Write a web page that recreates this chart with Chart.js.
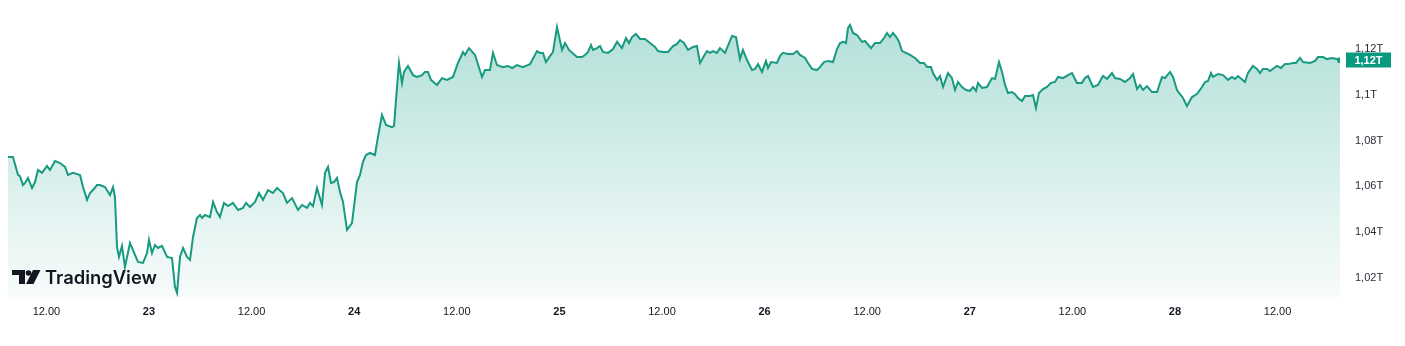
<!DOCTYPE html>
<html>
<head>
<meta charset="utf-8">
<script src="https://cdn.jsdelivr.net/npm/chart.js@4/dist/chart.umd.min.js"></script>
<style>
  html, body { margin: 0; padding: 0; background: #ffffff; }
  #wrap { width: 1405px; height: 346px; position: relative; }
</style>
</head>
<body>
<div id="wrap"><canvas id="c" width="1405" height="346"></canvas></div>
<script>
// Hours since day 22, 00:00
const hours = [
7.51,8.09,8.68,8.91,9.26,9.50,9.85,10.32,10.67,11.02,11.49,12.07,12.42,13.01,13.59,14.18,14.53,15.11,15.93,16.28,
16.75,17.10,17.45,17.92,18.27,18.85,19.44,19.79,20.02,20.26,20.49,20.84,21.19,21.78,22.13,22.71,23.30,23.77,24.00,24.35,
24.70,25.05,25.52,26.11,26.69,27.04,27.28,27.63,27.98,28.45,28.80,29.15,29.61,29.97,30.20,30.55,31.13,31.49,31.95,32.30,
32.77,33.24,33.82,34.41,34.99,35.35,35.81,36.40,36.87,37.33,37.92,38.50,38.97,39.67,40.14,40.73,41.43,41.90,42.48,42.83,
43.18,43.65,44.23,44.59,44.94,45.29,45.64,45.99,46.34,46.69,47.16,47.74,48.33,48.68,49.03,49.38,49.85,50.43,50.78,51.25,
51.72,52.42,52.66,53.01,53.24,53.59,53.83,54.29,54.88,55.35,55.93,56.28,56.63,56.98,57.69,58.27,58.85,59.56,60.14,60.73,
60.96,61.43,62.13,62.95,63.30,63.88,64.23,64.70,65.40,65.99,66.46,67.04,67.74,68.56,69.38,69.73,70.08,70.43,70.90,71.25,
71.72,72.31,72.66,73.12,74.06,74.64,74.99,75.35,75.70,75.93,76.40,76.75,77.10,77.69,78.27,78.74,79.32,79.79,80.14,80.49,
80.96,81.43,82.01,82.60,83.18,83.53,84.12,84.70,85.29,85.76,86.11,86.57,87.04,87.63,88.09,88.45,88.91,89.26,89.61,89.97,
90.43,90.78,91.37,92.19,92.66,93.12,93.47,93.94,94.53,94.88,95.23,95.70,96.16,96.40,96.75,97.45,97.80,98.15,98.74,99.32,
99.79,100.14,100.73,101.08,101.55,102.13,102.48,102.95,103.42,104.00,104.47,104.82,105.17,105.52,105.76,105.99,106.34,106.81,107.39,107.74,
108.45,108.91,109.50,109.97,110.32,110.67,111.02,111.49,111.72,112.07,112.54,113.01,113.59,114.18,114.64,115.00,115.46,115.70,116.17,116.52,
116.87,117.45,117.92,118.27,118.62,119.09,119.56,120.02,120.38,120.73,120.96,121.43,122.01,122.60,122.95,123.42,123.77,124.12,124.47,124.94,
125.29,125.64,126.11,126.46,127.04,127.39,127.74,128.09,128.56,129.03,129.50,129.97,130.32,130.90,131.49,131.95,132.54,133.12,133.47,133.83,
134.41,134.99,135.58,136.05,136.63,136.98,137.57,138.15,138.74,139.09,139.56,139.91,140.26,140.73,141.31,141.90,142.48,142.83,143.42,143.77,
144.23,144.59,144.94,145.40,145.99,146.57,147.16,147.51,147.86,148.21,148.45,149.03,149.62,150.20,150.67,151.02,151.37,152.19,152.54,153.12,
153.59,153.94,154.29,154.76,155.11,155.58,155.93,156.40,156.87,157.22,157.80,158.15,158.62,158.97,159.79,160.38,160.73,161.31,161.78,162.36,
162.95,163.30
];
// Values in trillions
const values = [
1.0728,1.0728,1.0650,1.0645,1.0606,1.0615,1.0637,1.0593,1.0619,1.0672,1.0659,1.0689,1.0672,1.0711,1.0702,1.0685,1.0650,1.0659,1.0650,1.0597,
1.0541,1.0571,1.0584,1.0606,1.0606,1.0597,1.0562,1.0597,1.0554,1.0335,1.0292,1.0340,1.0248,1.0353,1.0322,1.0270,1.0266,1.0309,1.0366,1.0309,
1.0344,1.0331,1.0340,1.0292,1.0287,1.0161,1.0135,1.0292,1.0331,1.0292,1.0279,1.0379,1.0462,1.0475,1.0462,1.0475,1.0466,1.0532,1.0488,1.0466,
1.0528,1.0514,1.0528,1.0497,1.0506,1.0528,1.0510,1.0532,1.0571,1.0541,1.0584,1.0571,1.0593,1.0571,1.0528,1.0549,1.0497,1.0519,1.0506,1.0528,
1.0514,1.0593,1.0519,1.0659,1.0685,1.0615,1.0619,1.0637,1.0576,1.0532,1.0410,1.0440,1.0619,1.0650,1.0707,1.0737,1.0746,1.0737,1.0816,1.0912,
1.0868,1.0859,1.0864,1.1034,1.1139,1.1052,1.1100,1.1126,1.1086,1.1078,1.1086,1.1100,1.1100,1.1065,1.1043,1.1073,1.1065,1.1078,1.1139,1.1187,
1.1174,1.1204,1.1174,1.1078,1.1108,1.1108,1.1183,1.1130,1.1121,1.1126,1.1117,1.1130,1.1121,1.1134,1.1191,1.1183,1.1183,1.1143,1.1169,1.1187,
1.1296,1.1196,1.1226,1.1196,1.1165,1.1165,1.1174,1.1187,1.1217,1.1196,1.1204,1.1213,1.1187,1.1183,1.1200,1.1231,1.1204,1.1248,1.1226,1.1252,
1.1266,1.1244,1.1244,1.1226,1.1209,1.1191,1.1187,1.1187,1.1213,1.1222,1.1239,1.1226,1.1196,1.1209,1.1213,1.1139,1.1169,1.1191,1.1183,1.1191,
1.1183,1.1204,1.1183,1.1257,1.1252,1.1156,1.1196,1.1152,1.1108,1.1113,1.1134,1.1100,1.1148,1.1117,1.1143,1.1139,1.1169,1.1183,1.1178,1.1178,
1.1191,1.1174,1.1161,1.1139,1.1113,1.1108,1.1121,1.1143,1.1148,1.1143,1.1200,1.1226,1.1231,1.1226,1.1292,1.1305,1.1270,1.1261,1.1231,1.1235,
1.1204,1.1226,1.1226,1.1248,1.1270,1.1252,1.1270,1.1248,1.1231,1.1191,1.1183,1.1174,1.1161,1.1139,1.1139,1.1121,1.1121,1.1095,1.1065,1.1082,
1.1034,1.1095,1.1073,1.1021,1.1056,1.1034,1.1021,1.1017,1.1034,1.1017,1.1052,1.1030,1.1034,1.1073,1.1069,1.1143,1.1100,1.1043,1.1008,1.1012,
1.1003,1.0986,1.0973,1.0995,1.0995,1.0999,1.0942,1.1008,1.1025,1.1034,1.1052,1.1056,1.1078,1.1073,1.1086,1.1095,1.1052,1.1052,1.1073,1.1082,
1.1034,1.1043,1.1082,1.1069,1.1095,1.1073,1.1069,1.1056,1.1073,1.1091,1.1025,1.1043,1.1021,1.1038,1.1012,1.1012,1.1078,1.1073,1.1100,1.1078,
1.1021,1.1003,1.0986,1.0951,1.0990,1.1003,1.1034,1.1056,1.1060,1.1095,1.1078,1.1091,1.1086,1.1065,1.1078,1.1069,1.1082,1.1056,1.1095,1.1126,
1.1113,1.1095,1.1113,1.1113,1.1104,1.1117,1.1126,1.1117,1.1134,1.1134,1.1139,1.1139,1.1161,1.1143,1.1139,1.1148,1.1165,1.1165,1.1156,1.1161,
1.1156,1.1151
];
const xTickHours = [12,24,36,48,60,72,84,96,108,120,132,144,156];
const xTickLabels = ['12.00','23','12.00','24','12.00','25','12.00','26','12.00','27','12.00','28','12.00'];
const yTickValues = [1.02,1.04,1.06,1.08,1.10,1.12];
const yTickLabels = ['1,02T','1,04T','1,06T','1,08T','1,1T','1,12T'];

const LINE = '#179a80';
const BADGE = '#089981';

const points = hours.map((h, i) => ({ x: h, y: values[i] }));

const overlay = {
  id: 'overlay',
  afterDraw(chart) {
    const { ctx, scales } = chart;
    const y = scales.y;
    const lastV = values[values.length - 1];
    const py = y.getPixelForValue(lastV);
    // price badge
    const txt = lastV.toFixed(2).replace('.', ',') + 'T';
    ctx.save();
    ctx.fillStyle = BADGE;
    ctx.fillRect(1346, Math.round(py) - 7.5, 45, 15);
    ctx.fillStyle = '#ffffff';
    ctx.font = 'bold 11px "Liberation Sans", Arial, sans-serif';
    ctx.textAlign = 'center';
    ctx.textBaseline = 'middle';
    ctx.fillText(txt, 1368.5, Math.round(py) + 0.5);
    ctx.restore();

    // TradingView logo
    ctx.save();
    ctx.fillStyle = '#131722';
    ctx.fillRect(12, 270, 13, 5);
    ctx.fillRect(19, 270, 6, 14);
    ctx.beginPath();
    ctx.arc(28.5, 273, 2.8, 0, Math.PI * 2);
    ctx.fill();
    ctx.beginPath();
    ctx.moveTo(33, 270);
    ctx.lineTo(40.5, 270);
    ctx.lineTo(33.5, 284);
    ctx.lineTo(26, 284);
    ctx.closePath();
    ctx.fill();
    let fs = 18;
    ctx.font = '600 ' + fs + 'px Inter, "Noto Sans", sans-serif';
    const w = ctx.measureText('TradingView').width;
    fs = fs * 112 / w;
    ctx.font = '600 ' + fs.toFixed(2) + 'px Inter, "Noto Sans", sans-serif';
    ctx.textBaseline = 'alphabetic';
    ctx.textAlign = 'left';
    ctx.fillText('TradingView', 45, 283.5);
    ctx.restore();
  }
};

new Chart(document.getElementById('c'), {
  type: 'line',
  data: {
    datasets: [{
      data: points,
      borderColor: LINE,
      borderWidth: 2,
      tension: 0,
      pointRadius: points.map((p, i) => i === points.length - 1 ? 3 : 0),
      pointBackgroundColor: LINE,
      pointBorderWidth: 0,
      fill: 'start',
      backgroundColor: (c) => {
        const ch = c.chart;
        const area = ch.chartArea;
        if (!area) return 'rgba(8,153,129,0.15)';
        const g = ch.ctx.createLinearGradient(0, area.top, 0, area.bottom);
        g.addColorStop(0, 'rgba(8,153,129,0.32)');
        g.addColorStop(1, 'rgba(8,153,129,0.03)');
        return g;
      }
    }]
  },
  options: {
    responsive: false,
    animation: false,
    events: [],
    layout: { padding: { left: 8, top: 10, right: 0, bottom: 0 } },
    plugins: { legend: { display: false }, tooltip: { enabled: false } },
    scales: {
      x: {
        type: 'linear',
        min: 7.51,
        max: 163.30,
        grid: { display: false, drawTicks: false },
        border: { display: false },
        afterBuildTicks: (s) => { s.ticks = xTickHours.map(v => ({ value: v })); },
        afterFit: (s) => { s.height = 49; },
        ticks: {
          autoSkip: false,
          maxRotation: 0,
          padding: 8,
          color: '#131722',
          callback: (v, i) => xTickLabels[i],
          font: (c) => ({
            family: '"Liberation Sans", Arial, sans-serif',
            size: 11,
            weight: (xTickLabels[c.index] || '').indexOf('.') === -1 ? 'bold' : 'normal'
          })
        }
      },
      y: {
        position: 'right',
        min: 1.011703,
        max: 1.137031,
        grid: { display: true, drawOnChartArea: false, drawTicks: true, tickLength: 15, color: 'rgba(0,0,0,0)' },
        border: { display: false },
        afterBuildTicks: (s) => { s.ticks = yTickValues.map(v => ({ value: v })); },
        afterFit: (s) => { s.width = 65; },
        ticks: {
          padding: 0,
          crossAlign: 'near',
          color: '#2a2e39',
          callback: (v, i) => yTickLabels[i],
          font: { family: '"Liberation Sans", Arial, sans-serif', size: 11 }
        }
      }
    }
  },
  plugins: [overlay]
});
</script>
</body>
</html>
